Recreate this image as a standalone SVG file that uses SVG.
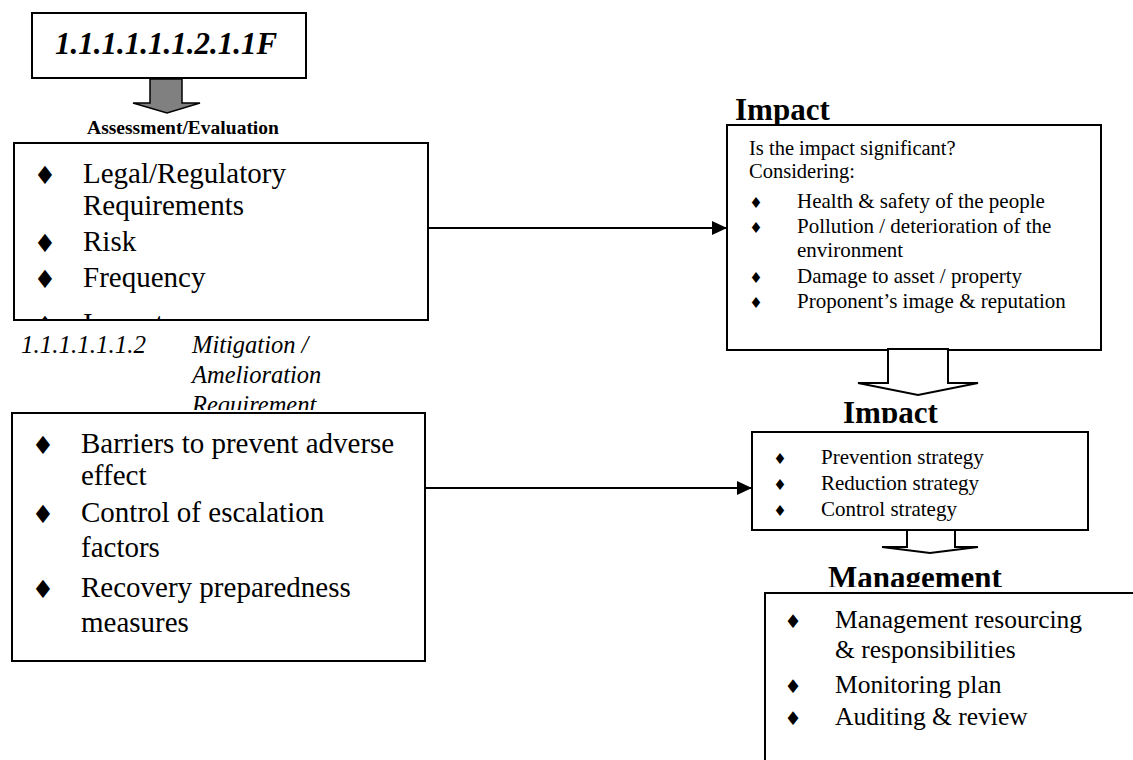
<svg xmlns="http://www.w3.org/2000/svg" width="1133" height="760" viewBox="0 0 1133 760">
  <style>
    .box { fill: #ffffff; stroke: #000000; stroke-width: 2; }
    .blk { fill: #ffffff; stroke: #000000; stroke-width: 2; stroke-linejoin: miter; }
    .serif { font-family: "Liberation Serif", "Times New Roman", serif; fill: #000; }
    .bul { font-family: "DejaVu Sans", sans-serif; fill: #000; text-anchor: middle; }
    .bb { font-size: 25px; }
    .bs { font-size: 15px; }
    .bm { font-size: 19px; }
    .big { font-size: 29px; }
    .mid { font-size: 25.5px; }
    .sm { font-size: 21px; }
    .title { font-weight: bold; font-size: 31px; }
    .conn { stroke: #000; stroke-width: 2; fill: none; marker-end: url(#arrowhead); }
  </style>
  <defs>
    <marker id="arrowhead" viewBox="0 0 15 14" refX="15" refY="7" markerWidth="15" markerHeight="14" markerUnits="userSpaceOnUse" orient="auto">
      <path d="M0,0 L15,7 L0,14 Z" fill="#000"/>
    </marker>
    <clipPath id="clipAssess"><rect x="15" y="144" width="412" height="175"/></clipPath>
    <clipPath id="clipMitLabel"><rect x="0" y="330" width="440" height="80"/></clipPath>
    <clipPath id="clipImpact2"><rect x="800" y="380" width="200" height="43"/></clipPath>
    <clipPath id="clipMgmt"><rect x="800" y="540" width="260" height="47"/></clipPath>
  </defs>
  <rect width="1133" height="760" fill="#ffffff"/>

  <g id="node-top">
    <rect class="box" x="32" y="13" width="274" height="65"/>
    <text class="serif" x="166" y="54" text-anchor="middle" font-size="31" font-weight="bold" font-style="italic">1.1.1.1.1.1.2.1.1F</text>
  </g>

  <g id="arrow-gray">
    <polygon points="150,79 182,79 182,103 200,103 167,113 133,103 150,103" fill="#808080" stroke="#000" stroke-width="1.5"/>
  </g>

  <g id="node-assessment">
    <text class="serif" x="183" y="134" text-anchor="middle" font-size="19.5" font-weight="bold">Assessment/Evaluation</text>
    <rect class="box" x="14" y="143" width="414" height="177"/>
    <g clip-path="url(#clipAssess)">
      <text class="bul bb" x="45" y="184">♦</text>
      <text class="serif big" x="83" y="183">Legal/Regulatory</text>
      <text class="serif big" x="83" y="215">Requirements</text>
      <text class="bul bb" x="45" y="252">♦</text>
      <text class="serif big" x="83" y="251">Risk</text>
      <text class="bul bb" x="45" y="288">♦</text>
      <text class="serif big" x="83" y="287">Frequency</text>
      <text class="bul bb" x="45" y="334">♦</text>
      <text class="serif big" x="83" y="333">Impact</text>
    </g>
  </g>

  <g id="label-mitigation" clip-path="url(#clipMitLabel)">
    <text class="serif" x="21" y="353" font-size="25" font-style="italic">1.1.1.1.1.1.2</text>
    <text class="serif" x="192" y="353" font-size="24.5" font-style="italic">Mitigation /</text>
    <text class="serif" x="192" y="383" font-size="24.5" font-style="italic">Amelioration</text>
    <text class="serif" x="192" y="413" font-size="24.5" font-style="italic">Requirement</text>
  </g>

  <g id="node-mitigation">
    <rect class="box" x="12" y="413" width="413" height="248"/>
    <text class="bul bb" x="43" y="454">♦</text>
    <text class="serif big" x="81" y="453">Barriers to prevent adverse</text>
    <text class="serif big" x="81" y="485">effect</text>
    <text class="bul bb" x="43" y="523">♦</text>
    <text class="serif big" x="81" y="522">Control of escalation</text>
    <text class="serif big" x="81" y="557">factors</text>
    <text class="bul bb" x="43" y="598">♦</text>
    <text class="serif big" x="81" y="597">Recovery preparedness</text>
    <text class="serif big" x="81" y="632">measures</text>
  </g>

  <g id="node-impact">
    <text class="serif title" x="735" y="120">Impact</text>
    <rect class="box" x="727" y="125" width="374" height="225"/>
    <text class="serif" x="749" y="155" font-size="20.5">Is the impact significant?</text>
    <text class="serif" x="749" y="178" font-size="20.5">Considering:</text>
    <text class="bul bs" x="756" y="208">♦</text>
    <text class="serif sm" x="797" y="208">Health &amp; safety of the people</text>
    <text class="bul bs" x="756" y="233">♦</text>
    <text class="serif sm" x="797" y="233">Pollution / deterioration of the</text>
    <text class="serif sm" x="797" y="257">environment</text>
    <text class="bul bs" x="756" y="283">♦</text>
    <text class="serif sm" x="797" y="283">Damage to asset / property</text>
    <text class="bul bs" x="756" y="308">♦</text>
    <text class="serif sm" x="797" y="308">Proponent’s image &amp; reputation</text>
  </g>

  <g id="arrow-block-1">
    <polygon class="blk" points="888,349 948,349 948,383 978,383 918,395 858,383 888,383"/>
  </g>

  <g id="node-strategy">
    <g clip-path="url(#clipImpact2)">
      <text class="serif title" x="843" y="423">Impact</text>
    </g>
    <rect class="box" x="752" y="432" width="336" height="98"/>
    <text class="bul bs" x="780" y="464">♦</text>
    <text class="serif sm" x="821" y="464">Prevention strategy</text>
    <text class="bul bs" x="780" y="490">♦</text>
    <text class="serif sm" x="821" y="490">Reduction strategy</text>
    <text class="bul bs" x="780" y="516">♦</text>
    <text class="serif sm" x="821" y="516">Control strategy</text>
  </g>

  <g id="arrow-block-2">
    <polygon class="blk" points="907,530 955,530 955,547 978,547 930,553 882,547 907,547"/>
  </g>

  <g id="node-management">
    <g clip-path="url(#clipMgmt)">
      <text class="serif title" x="828" y="588" font-size="33">Management</text>
    </g>
    <rect class="box" x="765" y="593" width="400" height="200"/>
    <text class="bul bm" x="793" y="628">♦</text>
    <text class="serif mid" x="835" y="628">Management resourcing</text>
    <text class="serif mid" x="835" y="658">&amp; responsibilities</text>
    <text class="bul bm" x="793" y="693">♦</text>
    <text class="serif mid" x="835" y="693">Monitoring plan</text>
    <text class="bul bm" x="793" y="725">♦</text>
    <text class="serif mid" x="835" y="725">Auditing &amp; review</text>
  </g>

  <g id="connectors">
    <line class="conn" x1="428" y1="228" x2="727" y2="228"/>
    <line class="conn" x1="425" y1="488" x2="752" y2="488"/>
  </g>
</svg>
